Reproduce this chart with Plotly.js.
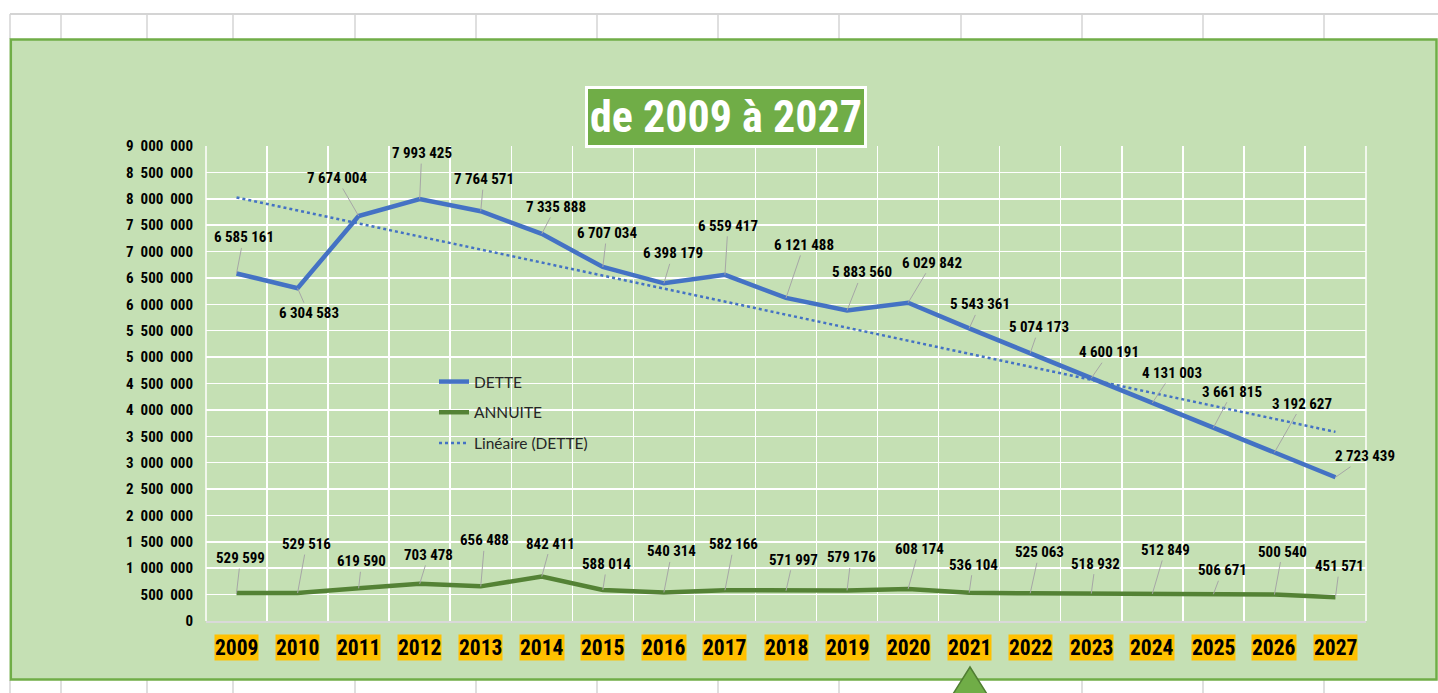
<!DOCTYPE html>
<html>
<head>
<meta charset="utf-8">
<script src="https://cdn.plot.ly/plotly-3.0.1.min.js"></script>
<style>
  html, body { margin: 0; padding: 0; background: #ffffff; }
  #chart { width: 1438px; height: 693px; }
</style>
</head>
<body>
<div id="chart"></div>
<script>
// ---------- DATA ----------
const years = ['2009','2010','2011','2012','2013','2014','2015','2016','2017','2018',
               '2019','2020','2021','2022','2023','2024','2025','2026','2027'];
const dette = [6585161, 6304583, 7674004, 7993425, 7764571, 7335888, 6707034, 6398179, 6559417, 6121488,
               5883560, 6029842, 5543361, 5074173, 4600191, 4131003, 3661815, 3192627, 2723439];
const annuite = [529599, 529516, 619590, 703478, 656488, 842411, 588014, 540314, 582166, 571997,
                 579176, 608174, 536104, 525063, 518932, 512849, 506671, 500540, 451571];
const yTickVals = [0, 500000, 1000000, 1500000, 2000000, 2500000, 3000000, 3500000, 4000000, 4500000,
                   5000000, 5500000, 6000000, 6500000, 7000000, 7500000, 8000000, 8500000, 9000000];
const yTickText = ['0', '500\u00a0\u00a0000', '1\u00a0\u00a0000\u00a0\u00a0000', '1\u00a0\u00a0500\u00a0\u00a0000',
  '2\u00a0\u00a0000\u00a0\u00a0000', '2\u00a0\u00a0500\u00a0\u00a0000', '3\u00a0\u00a0000\u00a0\u00a0000',
  '3\u00a0\u00a0500\u00a0\u00a0000', '4\u00a0\u00a0000\u00a0\u00a0000', '4\u00a0\u00a0500\u00a0\u00a0000',
  '5\u00a0\u00a0000\u00a0\u00a0000', '5\u00a0\u00a0500\u00a0\u00a0000', '6\u00a0\u00a0000\u00a0\u00a0000',
  '6\u00a0\u00a0500\u00a0\u00a0000', '7\u00a0\u00a0000\u00a0\u00a0000', '7\u00a0\u00a0500\u00a0\u00a0000',
  '8\u00a0\u00a0000\u00a0\u00a0000', '8\u00a0\u00a0500\u00a0\u00a0000', '9\u00a0\u00a0000\u00a0\u00a0000'];
const titleText = 'de 2009 à 2027';
const seriesNames = ['DETTE', 'ANNUITE', 'Linéaire (DETTE)'];

// ---------- label offsets (px, style only) ----------
const detteDx = [7, 11, -22, 2, 3, 14, 4, 9, 3, 18, 15, 24, 11, 9, 18, 20, 19, 28, 30];
const detteDy = [-36, 25, -38, -46, -32, -27, -34, -30, -49, -53, -38, -40, -24, -26, -26, -30, -36, -49, -21];
const annDx = [4, 9, 3, 9, 4, 9, 4, 8, 9, 7, 4, 11, 4, 9, 4, 13, 9, 8, 4];
const annDy = [-35, -49, -27, -29, -46, -33, -26, -41, -46, -31, -33, -40, -28, -41, -30, -44, -24, -43, -31];

// ---------- linear trend (least squares on DETTE) ----------
const n = dette.length;
const xs = dette.map((_, i) => i);
const mx = xs.reduce((a, b) => a + b, 0) / n;
const my = dette.reduce((a, b) => a + b, 0) / n;
let sxy = 0, sxx = 0;
for (let i = 0; i < n; i++) { sxy += (xs[i] - mx) * (dette[i] - my); sxx += (xs[i] - mx) ** 2; }
const slope = sxy / sxx, icpt = my - slope * mx;
const trend = xs.map(i => icpt + slope * i);

// ---------- helpers ----------
const fmt = v => String(v).replace(/\B(?=(\d{3})+(?!\d))/g, ' ');
const L = 206, R = 72, T = 146, B = 72, W = 1438, H = 693;
const PW = W - L - R, PH = H - T - B;
const px = p => (p - L) / PW;
const py = p => (H - B - p) / PH;

const NARROW = "'Liberation Sans Narrow', 'Arial Narrow', 'Roboto Condensed', 'Liberation Sans', Arial, sans-serif";

// ---------- traces ----------
const traces = [
  { x: years, y: dette, type: 'scatter', mode: 'lines', name: seriesNames[0], legendgroup: 'a',
    line: { color: '#4472c4', width: 4.5 }, hoverinfo: 'skip' },
  { x: years, y: annuite, type: 'scatter', mode: 'lines', name: seriesNames[1], legendgroup: 'b',
    line: { color: '#548235', width: 4.5 }, hoverinfo: 'skip' },
  { x: years, y: trend, type: 'scatter', mode: 'lines', name: seriesNames[2], legendgroup: 'c',
    line: { color: '#4472c4', width: 2.5, dash: 'dot' }, hoverinfo: 'skip' }
];

// ---------- annotations ----------
// category axis: annotation x uses the category serial number (index)
const annotations = [];
annotations.push({
  xref: 'paper', yref: 'paper', x: px(725.5), y: py(117), xanchor: 'center', yanchor: 'middle',
  text: '<b>' + titleText + '</b>', showarrow: false,
  font: { family: NARROW, size: 44, color: '#ffffff' },
  bgcolor: '#70ad47', bordercolor: '#ffffff', borderwidth: 3, borderpad: 2
});
years.forEach((yr, i) => {
  annotations.push({
    xref: 'x', yref: 'y', x: i, y: dette[i], text: '<b>' + fmt(dette[i]) + '</b>',
    showarrow: true, arrowhead: 0, arrowwidth: 1, arrowcolor: '#a6a6a6',
    ax: detteDx[i], ay: detteDy[i],
    font: { family: NARROW, size: 15, color: '#000000' }
  });
  annotations.push({
    xref: 'x', yref: 'y', x: i, y: annuite[i], text: '<b>' + fmt(annuite[i]) + '</b>',
    showarrow: true, arrowhead: 0, arrowwidth: 1, arrowcolor: '#a6a6a6',
    ax: annDx[i], ay: annDy[i],
    font: { family: NARROW, size: 15, color: '#000000' }
  });
  annotations.push({
    xref: 'x', yref: 'paper', x: i, y: py(647.5), xanchor: 'center', yanchor: 'middle',
    text: '<b>' + yr + '</b>', showarrow: false,
    font: { family: NARROW, size: 21.5, color: '#000000' },
    bgcolor: '#ffc000', borderpad: 0
  });
});

// ---------- decorative shapes (spreadsheet cells, chart box, pointer) ----------
const shapes = [];
const cellX = [10, 61, 147, 233, 355, 476, 597, 718, 839, 961, 1082, 1203, 1324];
shapes.push({ type: 'line', xref: 'paper', yref: 'paper', layer: 'below',
  x0: px(10), x1: px(1438), y0: py(14), y1: py(14), line: { color: '#d4d4d4', width: 2 } });
cellX.forEach(cx => {
  shapes.push({ type: 'line', xref: 'paper', yref: 'paper', layer: 'below',
    x0: px(cx), x1: px(cx), y0: py(14), y1: py(39), line: { color: '#d4d4d4', width: 1.5 } });
  shapes.push({ type: 'line', xref: 'paper', yref: 'paper', layer: 'below',
    x0: px(cx), x1: px(cx), y0: py(680), y1: py(694), line: { color: '#d4d4d4', width: 1.5 } });
});
shapes.push({ type: 'rect', xref: 'paper', yref: 'paper', layer: 'below',
  x0: px(10.8), x1: px(1436.5), y0: py(39.5), y1: py(679.5),
  fillcolor: '#c5e0b4', line: { color: '#70ad47', width: 2.5 } });
// plot-area left/right edge gridlines
[206, 1366].forEach(ex => {
  shapes.push({ type: 'line', xref: 'paper', yref: 'paper', layer: 'below',
    x0: px(ex), x1: px(ex), y0: 0, y1: 1, line: { color: '#ffffff', width: 1.5 } });
});
shapes.push({ type: 'path', xref: 'paper', yref: 'paper', layer: 'above',
  path: `M ${px(970)} ${py(667)} L ${px(948)} ${py(702)} L ${px(992)} ${py(702)} Z`,
  fillcolor: '#70ad47', line: { color: '#507e32', width: 1.5 } });

// ---------- layout ----------
const layout = {
  width: W, height: H,
  margin: { l: L, r: R, t: T, b: B, pad: 0 },
  paper_bgcolor: '#ffffff', plot_bgcolor: 'rgba(0,0,0,0)',
  showlegend: true,
  legend: {
    x: px(434), y: py(365), xanchor: 'left', yanchor: 'top',
    bgcolor: 'rgba(0,0,0,0)', borderwidth: 0, tracegroupgap: 7.5,
    font: { family: 'Lato, "Open Sans", sans-serif', size: 15.5, color: '#262626' },
    traceorder: 'grouped'
  },
  xaxis: {
    type: 'category', range: [-0.5, 18.5], tickson: 'boundaries',
    showgrid: true, gridcolor: '#ffffff', gridwidth: 1.5,
    showticklabels: false, ticks: '', showline: true, linecolor: '#d9d9d9', linewidth: 1.5,
    zeroline: false, fixedrange: true
  },
  yaxis: {
    range: [0, 9000000], tickmode: 'array', tickvals: yTickVals, ticktext: yTickText,
    showgrid: true, gridcolor: '#ffffff', gridwidth: 1.5, zeroline: false,
    ticks: '', ticklabelstandoff: 12, showline: false,
    tickfont: { family: NARROW, size: 15, color: '#000000', weight: 'bold' },
    fixedrange: true
  },
  annotations: annotations,
  shapes: shapes
};

Plotly.newPlot('chart', traces, layout, { displayModeBar: false, staticPlot: true });
</script>
</body>
</html>
